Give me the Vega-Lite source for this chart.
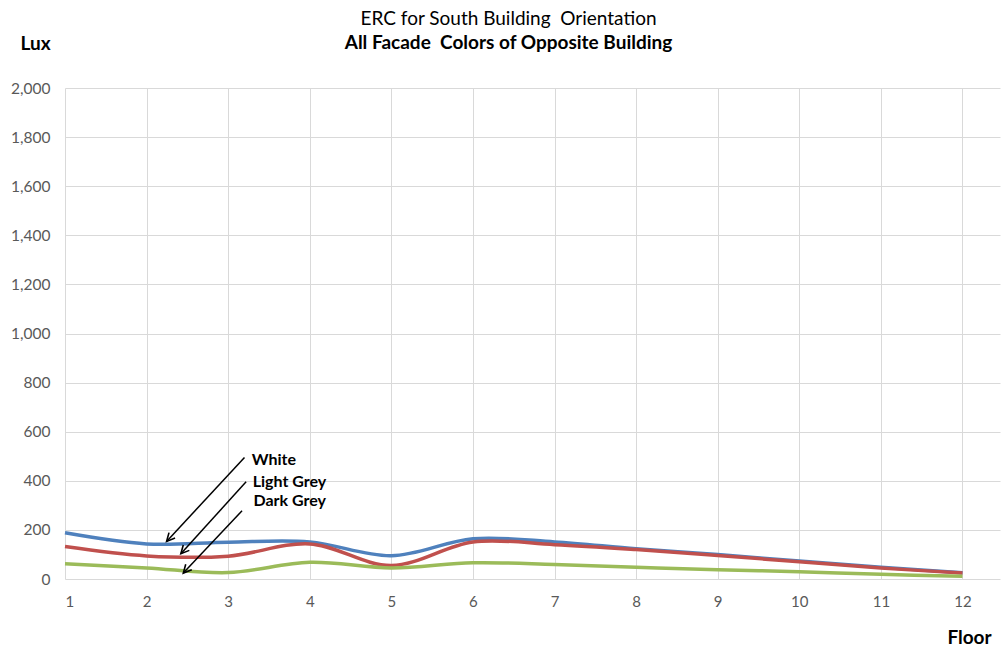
{
  "$schema": "https://vega.github.io/schema/vega-lite/v6.json",
  "width": 935,
  "height": 491,
  "autosize": "none",
  "padding": {"left": 65, "top": 88, "right": 2, "bottom": 67},
  "background": "white",
  "config": {"view": {"stroke": null}, "font": "Lato"},
  "title": {
    "text": "ERC for South Building\u00a0\u00a0Orientation",
    "subtitle": "All Facade\u00a0\u00a0Colors of Opposite Building",
    "anchor": "middle",
    "frame": "group",
    "dx": -24,
    "offset": -19,
    "font": "Lato",
    "fontSize": 19,
    "fontWeight": "normal",
    "color": "#000000",
    "subtitleFont": "Lato",
    "subtitleFontSize": 19,
    "subtitleFontWeight": "bold",
    "subtitleColor": "#000000",
    "subtitlePadding": 5
  },
  "datasets": {
    "lines": [
      {"floor": 1, "lux": 188, "series": "White"},
      {"floor": 2, "lux": 143, "series": "White"},
      {"floor": 3, "lux": 150, "series": "White"},
      {"floor": 4, "lux": 151, "series": "White"},
      {"floor": 5, "lux": 95, "series": "White"},
      {"floor": 6, "lux": 164, "series": "White"},
      {"floor": 7, "lux": 151, "series": "White"},
      {"floor": 8, "lux": 123, "series": "White"},
      {"floor": 9, "lux": 100, "series": "White"},
      {"floor": 10, "lux": 73, "series": "White"},
      {"floor": 11, "lux": 48, "series": "White"},
      {"floor": 12, "lux": 25, "series": "White"},
      {"floor": 1, "lux": 132, "series": "Light Grey"},
      {"floor": 2, "lux": 94, "series": "Light Grey"},
      {"floor": 3, "lux": 93, "series": "Light Grey"},
      {"floor": 4, "lux": 143, "series": "Light Grey"},
      {"floor": 5, "lux": 55, "series": "Light Grey"},
      {"floor": 6, "lux": 151, "series": "Light Grey"},
      {"floor": 7, "lux": 140, "series": "Light Grey"},
      {"floor": 8, "lux": 120, "series": "Light Grey"},
      {"floor": 9, "lux": 96, "series": "Light Grey"},
      {"floor": 10, "lux": 70, "series": "Light Grey"},
      {"floor": 11, "lux": 45, "series": "Light Grey"},
      {"floor": 12, "lux": 24, "series": "Light Grey"},
      {"floor": 1, "lux": 62, "series": "Dark Grey"},
      {"floor": 2, "lux": 45, "series": "Dark Grey"},
      {"floor": 3, "lux": 26, "series": "Dark Grey"},
      {"floor": 4, "lux": 68, "series": "Dark Grey"},
      {"floor": 5, "lux": 45, "series": "Dark Grey"},
      {"floor": 6, "lux": 66, "series": "Dark Grey"},
      {"floor": 7, "lux": 59, "series": "Dark Grey"},
      {"floor": 8, "lux": 48, "series": "Dark Grey"},
      {"floor": 9, "lux": 38, "series": "Dark Grey"},
      {"floor": 10, "lux": 30, "series": "Dark Grey"},
      {"floor": 11, "lux": 19, "series": "Dark Grey"},
      {"floor": 12, "lux": 11, "series": "Dark Grey"}
    ],
    "arrows": [
      {"label": "White", "fx": 3.20, "fy": 495, "tx": 2.245, "ty": 153},
      {"label": "Light Grey", "fx": 3.22, "fy": 396, "tx": 2.42, "ty": 103},
      {"label": "Dark Grey", "fx": 3.17, "fy": 278, "tx": 2.45, "ty": 24}
    ],
    "labels": [
      {"label": "White", "x": 3.29, "y": 485},
      {"label": "Light Grey", "x": 3.30, "y": 396},
      {"label": "Dark Grey", "x": 3.31, "y": 319}
    ]
  },
  "layer": [
    {
      "data": {"name": "lines"},
      "mark": {"type": "line", "interpolate": "catmull-rom", "strokeWidth": 3.5},
      "encoding": {
        "x": {
          "field": "floor",
          "type": "quantitative",
          "scale": {"domain": [1, 12.46], "nice": false, "zero": false},
          "axis": {
            "values": [1, 2, 3, 4, 5, 6, 7, 8, 9, 10, 11, 12],
            "format": "d",
            "domain": false,
            "ticks": false,
            "grid": true,
            "gridColor": "#d9d9d9",
            "gridWidth": 1,
            "labelFont": "Lato",
            "labelFontSize": 15,
            "labelColor": "#595959",
            "labelPadding": 15,
            "title": "Floor",
            "titleFont": "Lato",
            "titleFontSize": 19,
            "titleFontWeight": "bold",
            "titleColor": "#000000",
            "titleX": 904,
            "titleY": 58,
            "titleAlign": "center",
            "titleBaseline": "middle",
            "titleAngle": 0
          }
        },
        "y": {
          "field": "lux",
          "type": "quantitative",
          "scale": {"domain": [0, 2000], "nice": false},
          "axis": {
            "values": [0, 200, 400, 600, 800, 1000, 1200, 1400, 1600, 1800, 2000],
            "format": ",.0f",
            "domain": false,
            "ticks": false,
            "grid": true,
            "gridColor": "#d9d9d9",
            "gridWidth": 1,
            "labelFont": "Lato",
            "labelFontSize": 15.5,
            "labelColor": "#595959",
            "labelPadding": 15,
            "title": "Lux",
            "titleFont": "Lato",
            "titleFontSize": 19,
            "titleFontWeight": "bold",
            "titleColor": "#000000",
            "titleAngle": 0,
            "titleX": -30,
            "titleY": -45,
            "titleAlign": "center",
            "titleBaseline": "middle"
          }
        },
        "color": {
          "field": "series",
          "type": "nominal",
          "scale": {"domain": ["White", "Light Grey", "Dark Grey"], "range": ["#4f81bd", "#c0504d", "#9bbb59"]},
          "legend": null
        }
      }
    },
    {
      "data": {"name": "arrows"},
      "mark": {"type": "rule", "color": "#000000", "strokeWidth": 1.5},
      "encoding": {
        "x": {"field": "fx", "type": "quantitative"},
        "y": {"field": "fy", "type": "quantitative"},
        "x2": {"field": "tx"},
        "y2": {"field": "ty"}
      }
    },
    {
      "data": {"name": "arrows"},
      "mark": {"type": "point", "shape": "M-0.55,1.1L0,0L0.55,1.1", "filled": false, "stroke": "#000000", "strokeWidth": 1.6, "size": 220, "angle": 222, "opacity": 1},
      "encoding": {
        "x": {"field": "tx", "type": "quantitative"},
        "y": {"field": "ty", "type": "quantitative"}
      }
    },
    {
      "data": {"name": "labels"},
      "mark": {"type": "text", "align": "left", "baseline": "middle", "font": "Lato", "fontSize": 16, "fontWeight": "bold", "color": "#000000"},
      "encoding": {
        "x": {"field": "x", "type": "quantitative"},
        "y": {"field": "y", "type": "quantitative"},
        "text": {"field": "label"}
      }
    }
  ]
}
